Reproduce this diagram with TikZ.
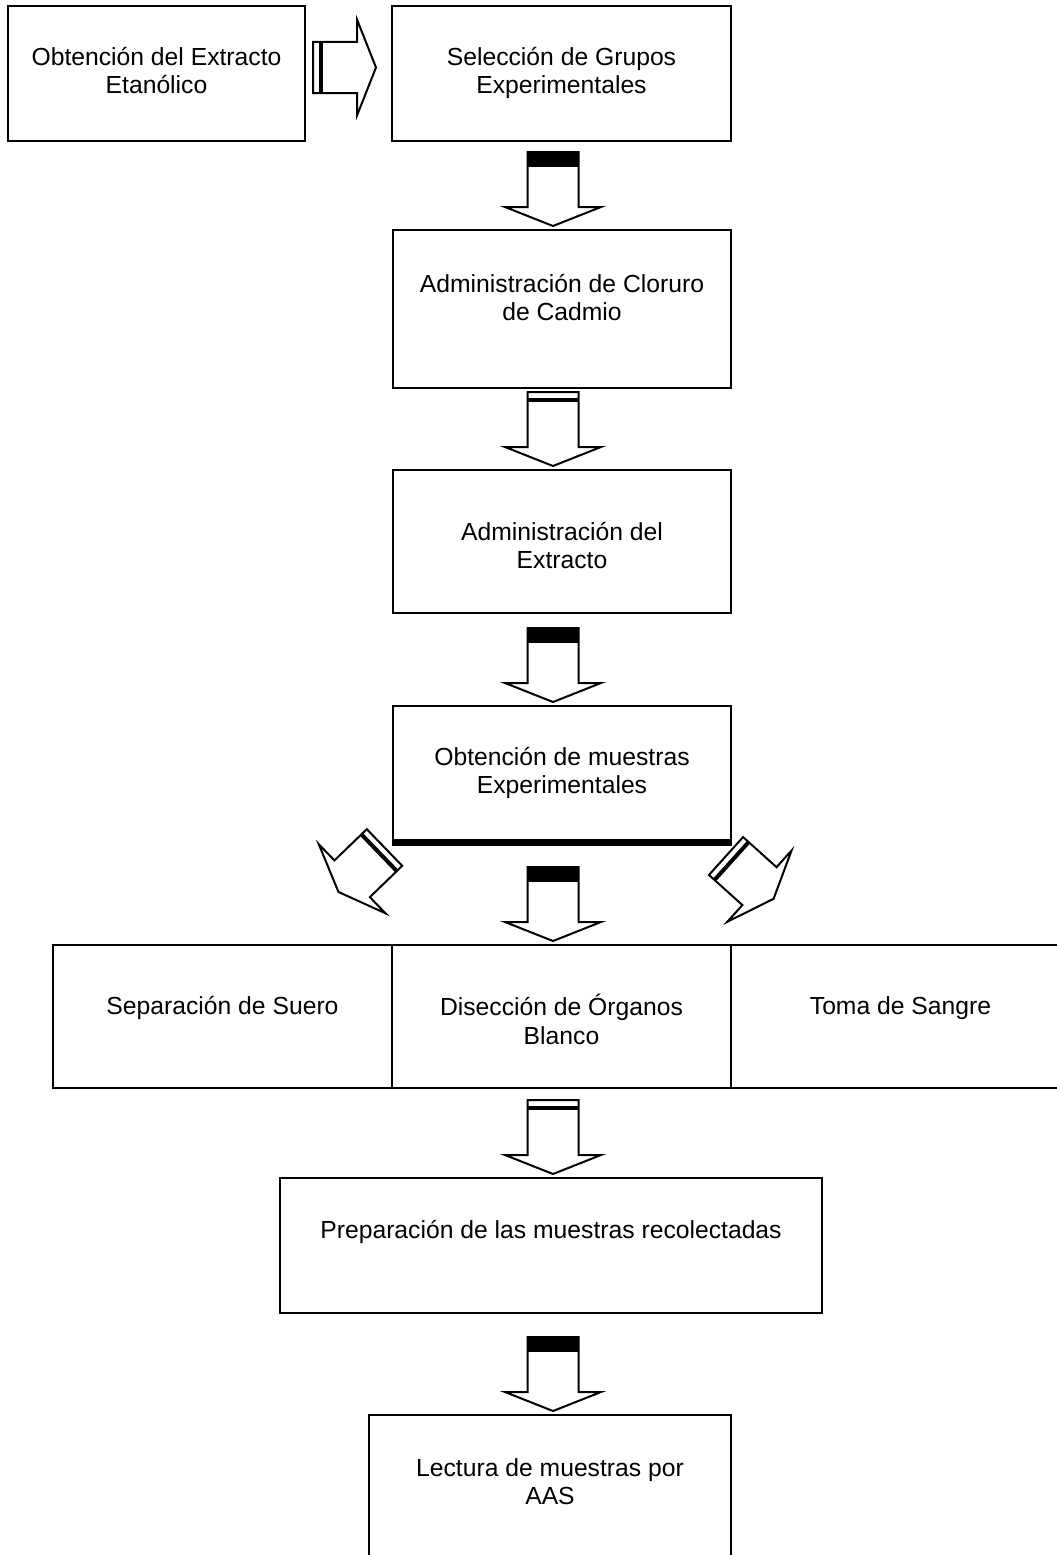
\documentclass[tikz,border=0pt]{standalone}
\usepackage{fontspec}
\setmainfont{Liberation Sans}
\usetikzlibrary{calc}

\tikzset{
	box/.style={draw, line width=2pt, inner sep=0pt},
	txt/.style={align=center, inner sep=0pt, anchor=north, font=\fontsize{24.7}{28.5}\selectfont},
	arrline/.style={line width=2pt, line join=miter},
	pics/solidarr/.style={code={
		\draw[arrline] (-25.5,0) -- (-25.5,#1-19) -- (-48,#1-19) -- (0,#1) -- (48,#1-19) -- (25.5,#1-19) -- (25.5,0) -- cycle;
		\fill (-25.5,0) rectangle (25.5,15);
	}},
	pics/doublearr/.style={code={
		\draw[arrline] (-25.5,0) -- (-25.5,#1-19) -- (-48,#1-19) -- (0,#1) -- (48,#1-19) -- (25.5,#1-19) -- (25.5,0) -- cycle;
		\draw[line width=4pt] (-25.5,7.5) -- (25.5,7.5);
	}}
}

\begin{document}
\begin{tikzpicture}[x=1pt, y=-1pt]
		%%%%% START %%%%%
		\useasboundingbox (0,0) rectangle (1057,1555);
		\coordinate (mid) at (553,0);
		
		\node[box, minimum width=297, minimum height=135] (A) at (156.5,73.5) {};
		\node[txt] (At) at ([yshift=-40pt]A.north) {\strut Obtención del Extracto\\Etanólico};
		\node[box, minimum width=339, minimum height=135] (B) at (561.5,73.5) {};
		\node[txt] (Bt) at ([yshift=-40pt]B.north) {\strut Selección de Grupos\\Experimentales};
		
		\node[box, minimum width=338, minimum height=158] (C) at (562,309) {};
		\node[txt] (Ct) at ([yshift=-43pt]C.north) {\strut Administración de Cloruro\\de Cadmio};
		
		\node[box, minimum width=338, minimum height=143] (D) at (562,541.5) {};
		\node[txt] (Dt) at ([yshift=-51pt]D.north) {\strut Administración del\\Extracto};
		
		\node[box, minimum width=338, minimum height=134] (E) at (562,773) {};
		\node[txt] (Et) at ([yshift=-40pt]E.north) {\strut Obtención de muestras\\Experimentales};
		\draw[line width=5pt] ([yshift=-2pt]E.south west) -- ([yshift=-2pt]E.south east);
		
		% three boxes in a row
		\node[box, minimum width=339, minimum height=143] (F1) at (222.5,1016.5) {};
		\node[txt] (F1t) at ([yshift=-50pt]F1.north) {\strut Separación de Suero};
		\node[box, minimum width=339, minimum height=143] (F2) at (561.5,1016.5) {};
		\node[txt] (F2t) at ([yshift=-50pt]F2.north) {\strut Disección de Órganos\\Blanco};
		\node[box, minimum width=339, minimum height=143] (F3) at (900.5,1016.5) {};
		\node[txt] (F3t) at ([yshift=-50pt]F3.north) {\strut Toma de Sangre};
		
		\node[box, minimum width=542, minimum height=135] (G) at (551,1245.5) {};
		\node[txt] (Gt) at ([yshift=-41pt]G.north) {\strut Preparación de las muestras recolectadas};
		
		\node[box, minimum width=362, minimum height=160] (H) at (550,1495) {};
		\node[txt] (Ht) at ([yshift=-42pt]H.north) {\strut Lectura de muestras por\\AAS};
		
		% block arrows
		\pic[rotate=90] at ($(A.east)+(7,-6)$) {doublearr=63};
		\pic at ($(C.north -| mid)+(0,-77)$) {solidarr=74};
		\pic at ($(D.north -| mid)+(0,-77)$) {doublearr=74};
		\pic at ($(E.north -| mid)+(0,-77)$) {solidarr=74};
		\pic at ($(F2.north -| mid)+(0,-77)$) {solidarr=74};
		\pic at ($(G.north -| mid)+(0,-77)$) {doublearr=74};
		\pic at ($(H.north -| mid)+(0,-77)$) {solidarr=74};
		\pic[rotate=-46] at ($(E.south west)+(-7.5,6.5)$) {doublearr=64};
		\pic[rotate=48] at ($(E.south east)+(-6,15)$) {doublearr=64};
		
		%%%%% END %%%%%
\end{tikzpicture}
\end{document}
